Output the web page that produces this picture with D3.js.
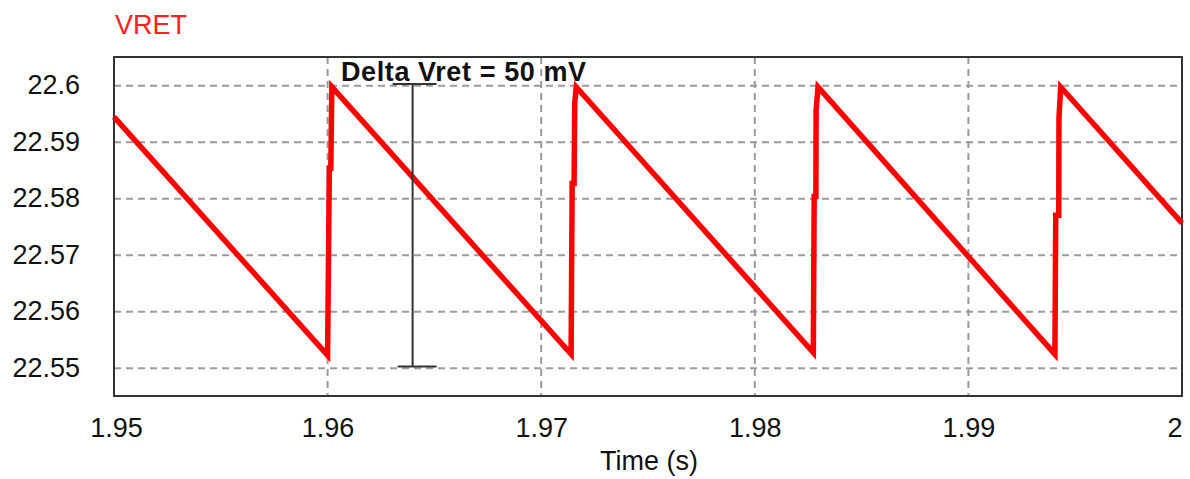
<!DOCTYPE html>
<html>
<head>
<meta charset="utf-8">
<script src="https://cdn.jsdelivr.net/npm/d3@7"></script>
<style>
  html, body { margin: 0; padding: 0; background: #fff; }
  svg { display: block; font-family: "Liberation Sans", Arial, sans-serif; }
</style>
</head>
<body>
<svg id="chart" width="1190" height="479"></svg>
<script>
// Simulated ripple voltage VRET over time (sawtooth)
const time = [1.95, 1.96000, 1.96008, 1.96015, 1.96020,
              1.97140, 1.97145, 1.97154, 1.97157, 1.97164,
              1.98274, 1.98278, 1.98286, 1.98287, 1.98296,
              1.99405, 1.99409, 1.99423, 1.99424, 1.99432,
              2.0];
const vret = [22.5945, 22.5523, 22.5854, 22.5854, 22.5998,
              22.5525, 22.5827, 22.5827, 22.5969, 22.5998,
              22.5528, 22.5804, 22.5804, 22.5957, 22.5998,
              22.5525, 22.5771, 22.5771, 22.5942, 22.5998,
              22.5757];

const xTicks = [1.95, 1.96, 1.97, 1.98, 1.99, 2.0];
const yTicks = [22.55, 22.56, 22.57, 22.58, 22.59, 22.6];
const xExtent = [1.95, 2.0];
const yExtent = [22.5451, 22.6051];

// Ripple annotation: peak-to-peak band marker
const deltaTime = 1.96398;
const deltaCenter = 22.5753;
const deltaMV = 50;

const svg = d3.select("#chart");
const x = d3.scaleLinear().domain(xExtent).range([114, 1182]);
const y = d3.scaleLinear().domain(yExtent).range([396, 57]);
const fmt = d => String(+d.toFixed(2));

// Grid lines
const grid = svg.append("g");
grid.selectAll("line.h").data(yTicks).join("line")
  .attr("x1", x(xExtent[0])).attr("x2", x(xExtent[1]))
  .attr("y1", d => y(d)).attr("y2", d => y(d))
  .attr("stroke", "#9a9a9a").attr("stroke-width", 2).attr("stroke-dasharray", "7,5");
grid.selectAll("line.v").data(xTicks.slice(1, -1)).join("line")
  .attr("x1", d => x(d)).attr("x2", d => x(d))
  .attr("y1", y(yExtent[1])).attr("y2", y(yExtent[0]))
  .attr("stroke", "#9a9a9a").attr("stroke-width", 2).attr("stroke-dasharray", "7,5");

// Frame
svg.append("rect")
  .attr("x", x(xExtent[0])).attr("y", y(yExtent[1]))
  .attr("width", x(xExtent[1]) - x(xExtent[0]))
  .attr("height", y(yExtent[0]) - y(yExtent[1]))
  .attr("fill", "none").attr("stroke", "#333").attr("stroke-width", 2);

// Axes (labels only)
const yAxis = svg.append("g").attr("transform", "translate(80,0)")
  .call(d3.axisLeft(y).tickValues(yTicks).tickFormat(fmt).tickSize(0).tickPadding(0));
yAxis.select(".domain").remove();
yAxis.selectAll("text").attr("font-size", 27).attr("fill", "#111")
  .attr("font-family", "Liberation Sans, Arial, sans-serif").attr("dy", "0.3em");

const xAxis = svg.append("g").attr("transform", "translate(0,437)")
  .call(d3.axisBottom(x).tickValues(xTicks).tickFormat(fmt).tickSize(0).tickPadding(0));
xAxis.select(".domain").remove();
xAxis.selectAll("text").attr("font-size", 27).attr("fill", "#111")
  .attr("font-family", "Liberation Sans, Arial, sans-serif").attr("dy", 0)
  .attr("dx", (d, i) => i === 0 ? 2 : 0)
  .attr("text-anchor", d => d === xExtent[1] ? "end" : "middle");

// Axis title and series name
svg.append("text").attr("x", (x(xExtent[0]) + x(xExtent[1])) / 2 + 1).attr("y", 470)
  .attr("text-anchor", "middle").attr("font-size", 27).attr("fill", "#111").text("Time (s)");
svg.append("text").attr("x", 115).attr("y", 34)
  .attr("font-size", 27).attr("fill", "#ff2020").text("VRET");

// Waveform
const pts = time.map((t, i) => [t, vret[i]]);
svg.append("path").datum(pts)
  .attr("d", d3.line().x(d => x(d[0])).y(d => y(d[1])))
  .attr("fill", "none").attr("stroke", "#ff0000").attr("stroke-width", 5.5)
  .attr("stroke-linejoin", "miter").attr("stroke-miterlimit", 3);

// Delta marker
const dTop = deltaCenter + deltaMV / 2000;
const dBot = deltaCenter - deltaMV / 2000;
const mk = svg.append("g").attr("stroke", "#333").attr("stroke-width", 2);
const bx = x(deltaTime);
mk.append("line").attr("x1", bx).attr("x2", bx).attr("y1", y(dTop)).attr("y2", y(dBot));
mk.append("line").attr("x1", bx - 20).attr("x2", bx + 24).attr("y1", y(dTop)).attr("y2", y(dTop));
mk.append("line").attr("x1", bx - 15).attr("x2", bx + 24).attr("y1", y(dBot)).attr("y2", y(dBot));
svg.append("text").attr("x", 341).attr("y", 81)
  .attr("font-size", 27).attr("font-weight", "bold").attr("fill", "#111")
  .attr("letter-spacing", 0.6)
  .text(`Delta Vret = ${deltaMV} mV`);
</script>
</body>
</html>
